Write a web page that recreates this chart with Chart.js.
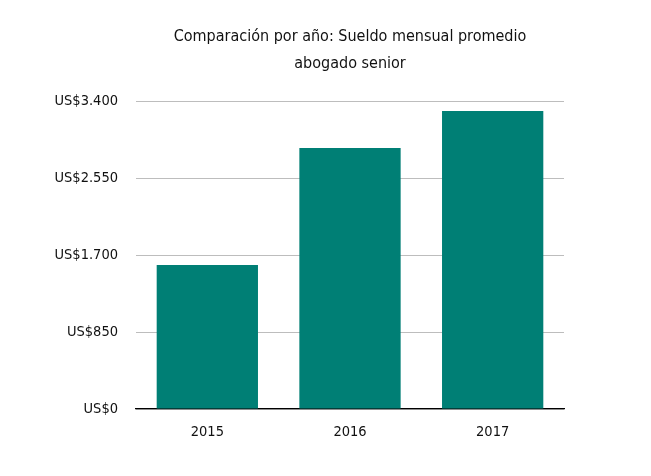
<!DOCTYPE html>
<html>
<head>
<meta charset="utf-8">
<script src="https://cdn.jsdelivr.net/npm/chart.js@4"></script>
<style>
  html, body { margin: 0; padding: 0; background: #fff; }
  #wrap { width: 651px; height: 476px; }
</style>
</head>
<body>
<div id="wrap"><canvas id="chart"></canvas></div>
<script>
// datos
const years = ['2015', '2016', '2017'];
const sueldos = [1590, 2880, 3290];
const yTicks = [0, 850, 1700, 2550, 3400];
const titleLines = ['Comparación por año: Sueldo mensual promedio', 'abogado senior'];

const FONT = "'DejaVu Sans Condensed', 'Liberation Sans Narrow', sans-serif";

function formatUS(v) {
    return 'US$' + v.toString().replace(/\B(?=(\d{3})+(?!\d))/g, '.');
}

// título centrado sobre el área del gráfico
const centeredTitle = {
    id: 'centeredTitle',
    afterDraw: function(chart) {
        const c = chart.ctx;
        const area = chart.chartArea;
        const cx = (area.left + area.right) / 2;
        c.save();
        c.fillStyle = '#111';
        c.font = '16px ' + FONT;
        c.textAlign = 'center';
        c.textBaseline = 'middle';
        c.fillText(titleLines[0], cx, 37);
        c.fillText(titleLines[1], cx, 64);
        c.restore();
    }
};

const ctx = document.getElementById('chart').getContext('2d');
new Chart(ctx, {
    type: 'bar',
    data: {
        labels: years,
        datasets: [{
            label: 'Sueldo mensual promedio',
            data: sueldos,
            backgroundColor: '#007f75',
            categoryPercentage: 0.71,
            barPercentage: 1.0
        }]
    },
    options: {
        responsive: true,
        maintainAspectRatio: false,
        animation: false,
        layout: {
            padding: { top: 101, right: 87, bottom: 0, left: 0 }
        },
        plugins: {
            legend: { display: false },
            tooltip: { enabled: false },
            title: { display: false }
        },
        scales: {
            y: {
                min: 0,
                max: 3400,
                afterBuildTicks: function(axis) {
                    axis.ticks = yTicks.map(function(v) { return { value: v }; });
                },
                afterFit: function(axis) { axis.width = 136; },
                ticks: {
                    color: '#111',
                    font: { family: FONT, size: 14.5 },
                    padding: 18,
                    callback: function(value) { return formatUS(value); }
                },
                grid: { color: '#bdbdbd', lineWidth: 1, drawTicks: false },
                border: { display: false }
            },
            x: {
                afterFit: function(axis) { axis.height = 67; },
                ticks: {
                    color: '#111',
                    font: { family: FONT, size: 14.5 },
                    padding: 7
                },
                grid: { display: false },
                border: { display: true, color: '#000', width: 1.2 }
            }
        }
    },
    plugins: [centeredTitle]
});
</script>
</body>
</html>
